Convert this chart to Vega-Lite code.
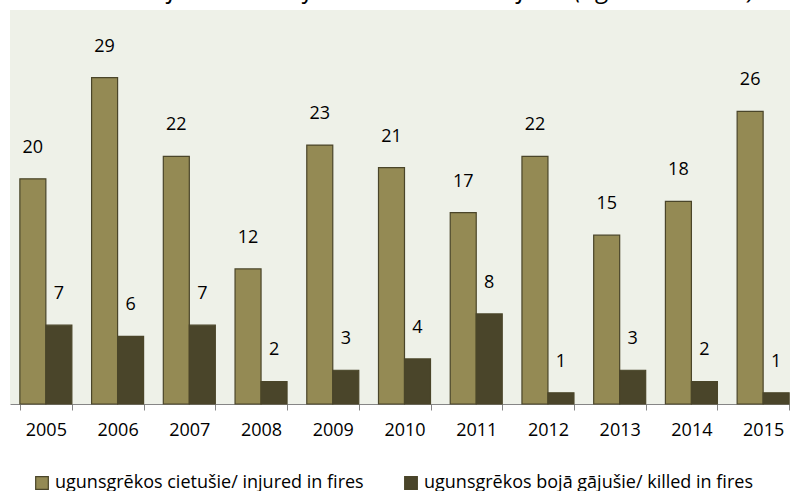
{
  "$schema": "https://vega.github.io/schema/vega-lite/v6.json",
  "autosize": "none",
  "padding": {"left": 10, "top": 10, "right": 0, "bottom": 87},
  "width": 789,
  "height": 394,
  "background": "white",
  "title": {
    "text": "Number of children injured and killed in fires (aged under 18)",
    "font": "Open Sans",
    "fontSize": 26,
    "fontStyle": "italic",
    "fontWeight": "normal",
    "color": "#000000",
    "anchor": "middle",
    "baseline": "alphabetic",
    "offset": 0,
    "dy": 14
  },
  "config": {
    "view": {"fill": "#eef1e8", "stroke": null},
    "font": "Open Sans"
  },
  "data": {
    "values": [
      {"year": "2005", "series": "ugunsgrēkos cietušie/ injured in fires", "value": 20},
      {"year": "2005", "series": "ugunsgrēkos bojā gājušie/ killed in fires", "value": 7},
      {"year": "2006", "series": "ugunsgrēkos cietušie/ injured in fires", "value": 29},
      {"year": "2006", "series": "ugunsgrēkos bojā gājušie/ killed in fires", "value": 6},
      {"year": "2007", "series": "ugunsgrēkos cietušie/ injured in fires", "value": 22},
      {"year": "2007", "series": "ugunsgrēkos bojā gājušie/ killed in fires", "value": 7},
      {"year": "2008", "series": "ugunsgrēkos cietušie/ injured in fires", "value": 12},
      {"year": "2008", "series": "ugunsgrēkos bojā gājušie/ killed in fires", "value": 2},
      {"year": "2009", "series": "ugunsgrēkos cietušie/ injured in fires", "value": 23},
      {"year": "2009", "series": "ugunsgrēkos bojā gājušie/ killed in fires", "value": 3},
      {"year": "2010", "series": "ugunsgrēkos cietušie/ injured in fires", "value": 21},
      {"year": "2010", "series": "ugunsgrēkos bojā gājušie/ killed in fires", "value": 4},
      {"year": "2011", "series": "ugunsgrēkos cietušie/ injured in fires", "value": 17},
      {"year": "2011", "series": "ugunsgrēkos bojā gājušie/ killed in fires", "value": 8},
      {"year": "2012", "series": "ugunsgrēkos cietušie/ injured in fires", "value": 22},
      {"year": "2012", "series": "ugunsgrēkos bojā gājušie/ killed in fires", "value": 1},
      {"year": "2013", "series": "ugunsgrēkos cietušie/ injured in fires", "value": 15},
      {"year": "2013", "series": "ugunsgrēkos bojā gājušie/ killed in fires", "value": 3},
      {"year": "2014", "series": "ugunsgrēkos cietušie/ injured in fires", "value": 18},
      {"year": "2014", "series": "ugunsgrēkos bojā gājušie/ killed in fires", "value": 2},
      {"year": "2015", "series": "ugunsgrēkos cietušie/ injured in fires", "value": 26},
      {"year": "2015", "series": "ugunsgrēkos bojā gājušie/ killed in fires", "value": 1}
    ]
  },
  "encoding": {
    "x": {
      "field": "year",
      "type": "nominal",
      "scale": {"paddingInner": 0.275, "paddingOuter": 0.1375},
      "axis": {
        "title": null,
        "labelAngle": 0,
        "tickBand": "extent",
        "domainColor": "#868686",
        "tickColor": "#868686",
        "tickSize": 6,
        "labelPadding": 11,
        "labelFont": "Open Sans",
        "labelFontSize": 18,
        "labelColor": "#000000"
      }
    },
    "xOffset": {
      "field": "series",
      "type": "nominal",
      "sort": ["ugunsgrēkos cietušie/ injured in fires", "ugunsgrēkos bojā gājušie/ killed in fires"],
      "scale": {"paddingInner": 0, "paddingOuter": 0}
    },
    "y": {
      "field": "value",
      "type": "quantitative",
      "scale": {"domain": [0, 35], "nice": false},
      "axis": null
    }
  },
  "layer": [
    {
      "mark": {"type": "bar", "stroke": "#4a4529", "strokeWidth": 1.2},
      "encoding": {
        "color": {
          "field": "series",
          "type": "nominal",
          "sort": ["ugunsgrēkos cietušie/ injured in fires", "ugunsgrēkos bojā gājušie/ killed in fires"],
          "scale": {
            "domain": ["ugunsgrēkos cietušie/ injured in fires", "ugunsgrēkos bojā gājušie/ killed in fires"],
            "range": ["#948a54", "#4a452a"]
          },
          "legend": {
            "title": null,
            "orient": "none",
            "legendX": 23,
            "legendY": 464,
            "direction": "horizontal",
            "symbolType": "square",
            "symbolSize": 160,
            "symbolStrokeColor": "#4a4529",
            "symbolStrokeWidth": 1.2,
            "labelFont": "Open Sans",
            "labelFontSize": 18,
            "labelColor": "#000000",
            "labelLimit": 500,
            "labelOffset": 4,
            "columnPadding": 38,
            "symbolOffset": 0
          }
        }
      }
    },
    {
      "mark": {"type": "text", "baseline": "alphabetic", "dy": -26, "font": "Open Sans", "fontSize": 18, "color": "#000000"},
      "encoding": {
        "text": {"field": "value", "type": "quantitative"}
      }
    }
  ]
}
